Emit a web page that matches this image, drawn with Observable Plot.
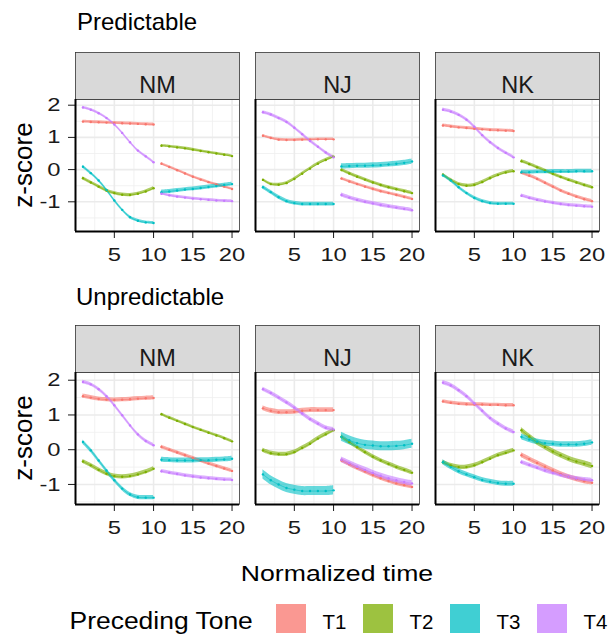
<!DOCTYPE html>
<html><head><meta charset="utf-8">
<script src="https://cdn.jsdelivr.net/npm/d3@7"></script>
<script src="https://cdn.jsdelivr.net/npm/@observablehq/plot@0.6"></script>
<style>
html,body{margin:0;padding:0;background:#fff;}
#chart{position:relative;width:609px;height:634px;overflow:hidden;}
#chart > svg{position:absolute;left:0;}
</style></head><body><div id="chart"></div>
<script>
const FONT = '"Liberation Sans", Arial, sans-serif';
const tones = ["T1","T2","T3","T4"];
const toneColors = ["#F8766D","#7CAE00","#00BFC4","#C77CFF"];
const regions = ["NM","NJ","NK"];
const groups = ["Predictable","Unpredictable"];
const times = [1,2,3,4,5,6,7,8,9,10,11,12,13,14,15,16,17,18,19,20];
const xTicks = [5,10,15,20];
const xMinor = [2.5,7.5,12.5,17.5];
const yTicks = [-1,0,1,2];
const yMinor = [-1.5,-0.5,0.5,1.5];

// Predictable
const predNM = {
  T1: [1.49,1.48,1.47,1.46,1.45,1.44,1.43,1.42,1.41,1.40, 0.18,0.08,-0.02,-0.12,-0.22,-0.31,-0.39,-0.46,-0.53,-0.60],
  T2: [-0.27,-0.40,-0.53,-0.65,-0.73,-0.78,-0.79,-0.75,-0.68,-0.58, 0.74,0.72,0.69,0.66,0.62,0.58,0.54,0.50,0.46,0.42],
  T3: [0.09,-0.11,-0.34,-0.63,-0.96,-1.25,-1.48,-1.59,-1.64,-1.66, -0.70,-0.68,-0.65,-0.62,-0.60,-0.57,-0.54,-0.51,-0.48,-0.45],
  T4: [1.93,1.86,1.75,1.60,1.40,1.14,0.85,0.59,0.41,0.23, -0.75,-0.80,-0.84,-0.87,-0.90,-0.92,-0.94,-0.96,-0.97,-0.98]
};
const predNJ = {
  T1: [1.05,0.98,0.93,0.92,0.92,0.93,0.93,0.94,0.94,0.94, -0.28,-0.37,-0.45,-0.53,-0.60,-0.67,-0.73,-0.79,-0.85,-0.91],
  T2: [-0.32,-0.45,-0.47,-0.42,-0.29,-0.13,0.03,0.18,0.30,0.40, -0.01,-0.12,-0.22,-0.31,-0.40,-0.48,-0.55,-0.61,-0.67,-0.73],
  T3: [-0.55,-0.70,-0.86,-0.98,-1.04,-1.07,-1.07,-1.07,-1.07,-1.07, 0.10,0.11,0.12,0.12,0.13,0.14,0.16,0.18,0.21,0.25],
  T4: [1.78,1.71,1.60,1.48,1.30,1.10,0.89,0.71,0.53,0.38, -0.79,-0.87,-0.94,-1.00,-1.05,-1.10,-1.14,-1.18,-1.22,-1.26]
};
const predNK = {
  T1: [1.37,1.34,1.31,1.29,1.27,1.25,1.23,1.22,1.21,1.20, -0.10,-0.19,-0.29,-0.41,-0.53,-0.65,-0.75,-0.84,-0.92,-0.98],
  T2: [-0.16,-0.32,-0.45,-0.50,-0.48,-0.39,-0.27,-0.17,-0.09,-0.05, 0.26,0.17,0.07,-0.03,-0.13,-0.23,-0.32,-0.40,-0.48,-0.55],
  T3: [-0.18,-0.34,-0.55,-0.73,-0.88,-0.98,-1.04,-1.06,-1.06,-1.06, -0.08,-0.08,-0.07,-0.07,-0.06,-0.06,-0.06,-0.05,-0.05,-0.05],
  T4: [1.86,1.80,1.70,1.55,1.33,1.07,0.85,0.67,0.52,0.38, -0.81,-0.88,-0.94,-0.99,-1.03,-1.07,-1.10,-1.12,-1.14,-1.15]
};
// Unpredictable
const unpNM = {
  T1: [1.54,1.50,1.46,1.44,1.43,1.44,1.45,1.47,1.48,1.49, 0.08,0.00,-0.08,-0.16,-0.24,-0.32,-0.40,-0.47,-0.54,-0.61],
  T2: [-0.34,-0.45,-0.58,-0.69,-0.76,-0.78,-0.76,-0.71,-0.64,-0.55, 1.02,0.92,0.83,0.74,0.65,0.57,0.49,0.41,0.33,0.24],
  T3: [0.22,-0.02,-0.31,-0.60,-0.88,-1.12,-1.29,-1.37,-1.38,-1.38, -0.29,-0.30,-0.31,-0.31,-0.31,-0.30,-0.30,-0.29,-0.28,-0.26],
  T4: [1.95,1.88,1.74,1.54,1.28,0.99,0.70,0.44,0.25,0.13, -0.62,-0.66,-0.70,-0.74,-0.77,-0.80,-0.82,-0.84,-0.86,-0.87]
};
const unpNJ = {
  T1: [1.19,1.12,1.08,1.08,1.09,1.12,1.14,1.14,1.14,1.14, -0.31,-0.42,-0.53,-0.63,-0.73,-0.82,-0.90,-0.97,-1.02,-1.07],
  T2: [-0.02,-0.10,-0.13,-0.13,-0.07,0.05,0.17,0.32,0.44,0.56, 0.37,0.22,0.07,-0.07,-0.20,-0.31,-0.41,-0.50,-0.58,-0.66],
  T3: [-0.71,-0.88,-1.00,-1.10,-1.15,-1.19,-1.19,-1.19,-1.19,-1.17, 0.37,0.27,0.19,0.14,0.12,0.10,0.10,0.11,0.13,0.17],
  T4: [1.74,1.63,1.50,1.36,1.21,1.04,0.88,0.75,0.63,0.58, -0.29,-0.39,-0.49,-0.58,-0.67,-0.75,-0.82,-0.88,-0.93,-0.97]
};
const unpNK = {
  T1: [1.39,1.35,1.32,1.31,1.30,1.30,1.29,1.29,1.28,1.28, -0.16,-0.27,-0.38,-0.49,-0.60,-0.70,-0.78,-0.85,-0.91,-0.95],
  T2: [-0.36,-0.45,-0.50,-0.50,-0.45,-0.36,-0.26,-0.16,-0.09,-0.02, 0.56,0.38,0.21,0.08,-0.05,-0.16,-0.26,-0.34,-0.40,-0.47],
  T3: [-0.36,-0.50,-0.62,-0.71,-0.79,-0.87,-0.92,-0.96,-0.98,-0.98, 0.37,0.29,0.23,0.19,0.17,0.15,0.15,0.15,0.17,0.21],
  T4: [1.93,1.85,1.71,1.54,1.33,1.12,0.91,0.75,0.61,0.51, -0.36,-0.44,-0.52,-0.60,-0.67,-0.73,-0.78,-0.83,-0.86,-0.88]
};
// ribbon half-widths (standard error), [segment 1 per tone], [segment 2 per tone]
const sePred = {
  NM: [[0.045,0.05,0.045,0.04],[0.04,0.04,0.06,0.04]],
  NJ: [[0.04,0.045,0.06,0.05],[0.045,0.05,0.08,0.06]],
  NK: [[0.045,0.05,0.05,0.05],[0.05,0.05,0.06,0.05]]
};
const seUnp = {
  NM: [[0.06,0.06,0.06,0.05],[0.05,0.04,0.07,0.05]],
  NJ: [[0.07,0.06,0.13,0.06],[0.06,0.06,0.13,0.08]],
  NK: [[0.05,0.06,0.07,0.06],[0.07,0.08,0.08,0.06]]
};

function buildRows(byRegion, se) {
  const rows = [];
  for (const r of regions) {
    tones.forEach((t, ti) => {
      byRegion[r][t].forEach((v, i) => {
        const seg = times[i] <= 10 ? 0 : 1;
        const s = se[r][seg][ti];
        rows.push({region: r, tone: t, key: t + "-" + seg, x: times[i], y: v, lo: v - s, hi: v + s});
      });
    });
  }
  return rows;
}
const predRows = buildRows({NM: predNM, NJ: predNJ, NK: predNK}, sePred);
const unpRows = buildRows({NM: unpNM, NJ: unpNJ, NK: unpNK}, seUnp);

function panelPlot(rows, yDomain, top) {
  const xDomain = [0.05, 20.95];
  const p = Plot.plot({
    width: 609, height: 230,
    marginTop: 59, marginBottom: 39, marginLeft: 75, marginRight: 10,
    style: {fontFamily: FONT, fontSize: "19px", color: "#1a1a1a", background: "transparent", overflow: "visible"},
    facet: {data: rows, x: "region"},
    fx: {domain: regions, padding: 0.0914, axis: null, label: null},
    x: {domain: xDomain, ticks: xTicks, tickSize: 7, tickPadding: 9, label: null, tickFormat: d => String(d)},
    y: {domain: yDomain, ticks: yTicks, tickSize: 7, tickPadding: 8, label: null, tickFormat: d => String(d)},
    color: {domain: tones, range: toneColors},
    marks: [
      Plot.ruleX(xMinor, {stroke: "#EFEFEF", strokeWidth: 0.8}),
      Plot.ruleY(yMinor, {stroke: "#EFEFEF", strokeWidth: 0.8}),
      Plot.ruleX(xTicks, {stroke: "#EBEBEB", strokeWidth: 1.6}),
      Plot.ruleY(yTicks, {stroke: "#EBEBEB", strokeWidth: 1.6}),
      Plot.areaY(rows, {x: "x", y1: "lo", y2: "hi", z: "key", fill: "tone", fillOpacity: 0.6, curve: "catmull-rom"}),
      Plot.line(rows, {x: "x", y: "y", z: "key", stroke: "tone", strokeWidth: 0.6, curve: "catmull-rom"}),
      Plot.dot(rows, {x: "x", y: "y", fill: "tone", r: 1.2}),
      Plot.frame({stroke: "#333", strokeWidth: 0.8}),
      Plot.frame({fill: "#D9D9D9", stroke: "#333", strokeWidth: 0.8, insetTop: -47, insetBottom: 132}),
      Plot.text(rows, Plot.selectFirst({text: "region", frameAnchor: "top", dy: -23.5, fontSize: 23.5, fill: "#1a1a1a"})),
      Plot.ruleX([xDomain[0]], {stroke: "#000", strokeWidth: 2}),
      Plot.ruleY([yDomain[0]], {stroke: "#000", strokeWidth: 2})
    ]
  });
  p.style.top = top + "px";
  return p;
}

const chart = document.getElementById("chart");
const top1 = panelPlot(predRows, [-1.922, 2.177], 40);
const top2 = panelPlot(unpRows, [-1.577, 2.222], 313.3);
chart.append(top1, top2);

// legend
const legend = Plot.plot({
  width: 609, height: 34, marginTop: 4, marginBottom: 1, marginLeft: 0, marginRight: 0,
  style: {fontFamily: FONT, background: "transparent", overflow: "visible", color: "#000"},
  x: {type: "band", domain: tones, range: [274, 568], paddingInner: 0.659, paddingOuter: 0, axis: null},
  color: {domain: tones, range: toneColors},
  marks: [
    Plot.cell(tones, {x: d => d, fill: d => d, fillOpacity: 0.75}),
    Plot.text(tones, {x: d => d, text: d => d, dx: 31, dy: 3, textAnchor: "start", fontSize: 20.5, fill: "#000"}),
    Plot.text(["Preceding Tone"], {text: d => d, frameAnchor: "left", dx: 69, dy: 3, textAnchor: "start", fontSize: 23, fill: "#000"})
  ]
});
legend.style.top = "600px";
chart.append(legend);

// overlay titles
const ov = d3.create("svg").attr("width", 609).attr("height", 634)
  .style("position", "absolute").style("top", "0px").style("left", "0px")
  .style("font-family", FONT).style("pointer-events", "none");
function addText(txt, x, y, size, anchor, rotate) {
  const t = ov.append("text").attr("x", x).attr("y", y).attr("font-size", size)
    .attr("text-anchor", anchor).attr("fill", "#000").text(txt);
  if (rotate) t.attr("transform", `rotate(-90 ${x} ${y})`);
  return t.node();
}
addText(groups[0], 77, 30, 24, "start");
addText(groups[1], 76, 305, 24, "start");
addText("z-score", 32, 165, 26, "middle", true);
addText("z-score", 32, 438, 26, "middle", true);
const xlab = addText("Normalized time", 337, 581, 22, "middle");
chart.append(ov.node());

function stretch(el, k) {
  const L = el.getComputedTextLength();
  if (L > 0) { el.setAttribute("textLength", (L * k).toFixed(2)); el.setAttribute("lengthAdjust", "spacingAndGlyphs"); }
}
for (const p of [top1, top2]) {
  p.querySelectorAll('[aria-label^="x-axis"] text, [aria-label^="y-axis"] text').forEach(t => stretch(t, 1.25));
}
stretch(xlab, 1.21);
legend.querySelectorAll("text").forEach(t => { if (t.textContent === "Preceding Tone") stretch(t, 1.15); });
</script></body></html>
